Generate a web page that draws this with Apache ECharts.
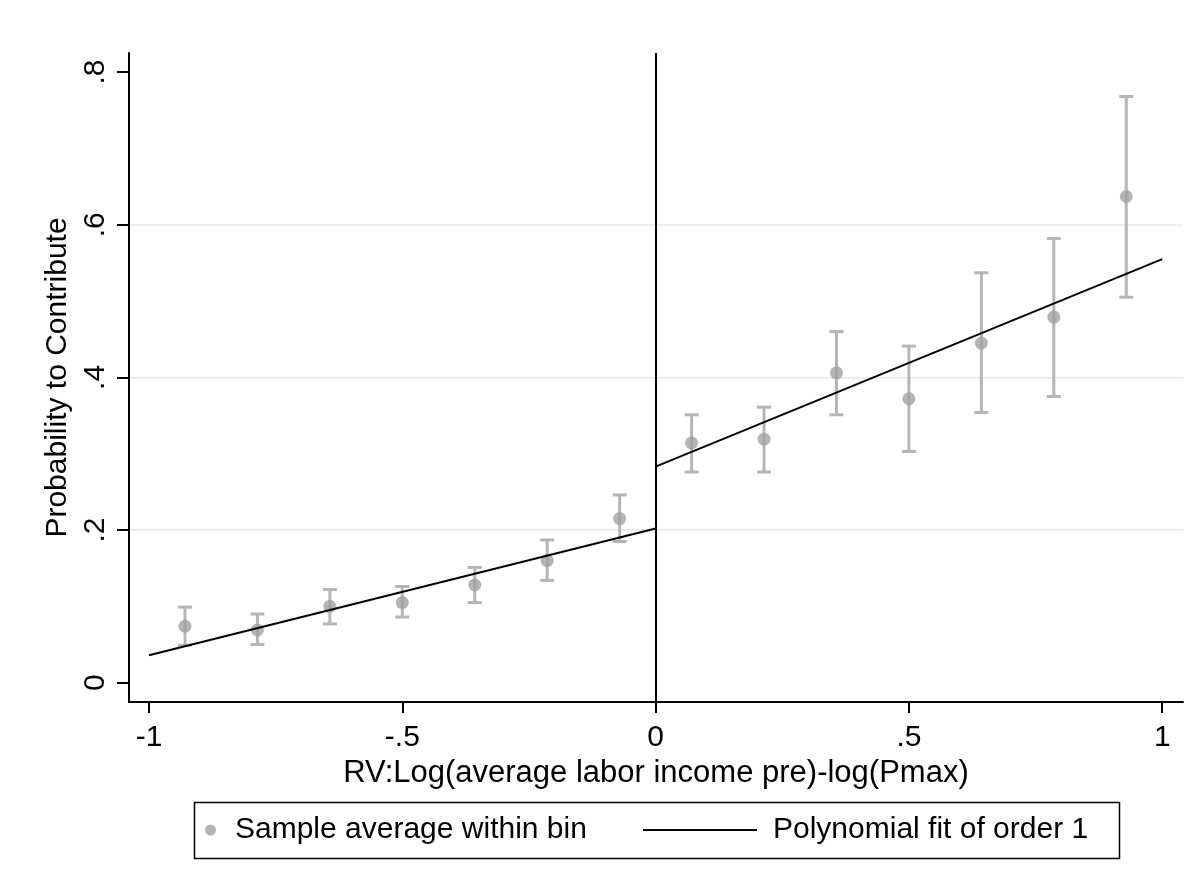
<!DOCTYPE html>
<html>
<head>
<meta charset="utf-8">
<script src="https://cdn.jsdelivr.net/npm/echarts@6/dist/echarts.min.js"></script>
<style>html,body{margin:0;padding:0;background:#fff;}#c{width:1200px;height:891px;}</style>
</head>
<body>
<div id="c"></div>
<script>
// Data
const binX = [-0.929, -0.786, -0.643, -0.5, -0.357, -0.214, -0.071, 0.071, 0.214, 0.357, 0.5, 0.643, 0.786, 0.929];
const binMean = [0.074, 0.069, 0.100, 0.105, 0.128, 0.160, 0.215, 0.314, 0.319, 0.406, 0.372, 0.445, 0.479, 0.637];
const ciLow  = [0.049, 0.050, 0.077, 0.086, 0.105, 0.134, 0.185, 0.276, 0.276, 0.351, 0.303, 0.354, 0.375, 0.505];
const ciHigh = [0.099, 0.090, 0.122, 0.126, 0.151, 0.187, 0.246, 0.351, 0.361, 0.460, 0.441, 0.537, 0.582, 0.768];
const fitLeftX = [-1, 0];
const fitLeftY = [0.036, 0.202];
const fitRightX = [0, 1];
const fitRightY = [0.283, 0.555];
const xTickValues = [-1, -0.5, 0, 0.5, 1];
const xTickLabels = ['-1', '-.5', '0', '.5', '1'];
const yTickValues = [0, 0.2, 0.4, 0.6, 0.8];
const yTickLabels = ['0', '.2', '.4', '.6', '.8'];
const cutoff = 0;

const FONT = '"Liberation Sans", Arial, sans-serif';
const chart = echarts.init(document.getElementById('c'), null, {renderer: 'canvas'});

function lookup(vals, labels, v) {
  for (let i = 0; i < vals.length; i++) if (Math.abs(vals[i] - v) < 1e-9) return labels[i];
  return '';
}

const scatterData = binX.map((x, i) => [x, binMean[i]]);
const ciData = binX.map((x, i) => [x, ciLow[i], ciHigh[i]]);

const option = {
  backgroundColor: '#ffffff',
  animation: false,
  grid: {left: 129, right: 17, top: 53, bottom: 189, containLabel: false},
  xAxis: {
    type: 'value',
    min: -1.0395, max: 1.041,
    name: 'RV:Log(average labor income pre)-log(Pmax)',
    nameLocation: 'middle', nameGap: 43,
    nameTextStyle: {fontFamily: FONT, fontSize: 31, color: '#000'},
    axisLine: {show: true, onZero: false, lineStyle: {color: '#000', width: 2}},
    axisTick: {show: true, length: 11, customValues: xTickValues, lineStyle: {color: '#000', width: 2}},
    axisLabel: {
      show: true, margin: 21, customValues: xTickValues,
      fontFamily: FONT, fontSize: 30, color: '#000',
      formatter: v => lookup(xTickValues, xTickLabels, v)
    },
    splitLine: {show: false}
  },
  yAxis: {
    type: 'value',
    min: -0.0253, max: 0.825,
    name: 'Probability to Contribute',
    nameLocation: 'middle', nameGap: 48, nameRotate: 90,
    nameTextStyle: {fontFamily: FONT, fontSize: 30, color: '#000'},
    axisLine: {show: true, onZero: false, lineStyle: {color: '#000', width: 2}},
    axisTick: {show: true, length: 12, customValues: yTickValues, lineStyle: {color: '#000', width: 2}},
    axisLabel: {
      show: true, rotate: 90, margin: 18, customValues: yTickValues,
      fontFamily: FONT, fontSize: 30, color: '#000',
      formatter: v => lookup(yTickValues, yTickLabels, v)
    },
    splitLine: {show: true, showMinLine: false, showMaxLine: false, lineStyle: {color: '#e6eff1', width: 2}}
  },
  legend: [
    {
      data: [{name: 'Sample average within bin', icon: 'circle'}],
      left: 205, top: 815, padding: 0,
      itemWidth: 11, itemHeight: 11,
      textStyle: {fontFamily: FONT, fontSize: 30, color: '#000', padding: [0, 0, 0, 14]},
      selectedMode: false
    },
    {
      data: [{name: 'Polynomial fit of order 1', icon: 'rect'}],
      left: 643, top: 815, padding: 0,
      itemWidth: 114, itemHeight: 2,
      textStyle: {fontFamily: FONT, fontSize: 30, color: '#000', padding: [0, 0, 0, 11]},
      selectedMode: false
    }
  ],
  graphic: [
    {type: 'rect', left: 192, top: 800, shape: {width: 925, height: 56},
     style: {fill: 'none', stroke: '#000', lineWidth: 1.5}, silent: true}
  ],
  series: [
    {
      type: 'custom',
      name: 'ci',
      data: ciData,
      encode: {x: 0, y: [1, 2]},
      z: 2,
      renderItem: function (params, api) {
        const x = api.value(0);
        const lo = api.coord([x, api.value(1)]);
        const hi = api.coord([x, api.value(2)]);
        const w = 7;
        const st = {stroke: '#b5b5b5', lineWidth: 3};
        return {type: 'group', children: [
          {type: 'line', shape: {x1: lo[0], y1: lo[1], x2: hi[0], y2: hi[1]}, style: st},
          {type: 'line', shape: {x1: lo[0] - w, y1: lo[1], x2: lo[0] + w, y2: lo[1]}, style: st},
          {type: 'line', shape: {x1: hi[0] - w, y1: hi[1], x2: hi[0] + w, y2: hi[1]}, style: st}
        ]};
      }
    },
    {
      type: 'scatter',
      name: 'Sample average within bin',
      data: scatterData,
      symbol: 'circle', symbolSize: 13,
      itemStyle: {color: '#a1a1a1'},
      z: 3
    },
    {
      type: 'line',
      name: 'Polynomial fit of order 1',
      data: fitLeftX.map((x, i) => [x, fitLeftY[i]]),
      symbol: 'none', showSymbol: false,
      lineStyle: {color: '#000', width: 2},
      itemStyle: {color: '#000'},
      z: 4,
      markLine: {
        silent: true, symbol: 'none', label: {show: false},
        lineStyle: {color: '#000', width: 2, type: 'solid'},
        data: [{xAxis: cutoff}]
      }
    },
    {
      type: 'line',
      name: 'Polynomial fit of order 1',
      data: fitRightX.map((x, i) => [x, fitRightY[i]]),
      symbol: 'none', showSymbol: false,
      lineStyle: {color: '#000', width: 2},
      itemStyle: {color: '#000'},
      z: 4
    }
  ]
};
chart.setOption(option);
</script>
</body>
</html>
